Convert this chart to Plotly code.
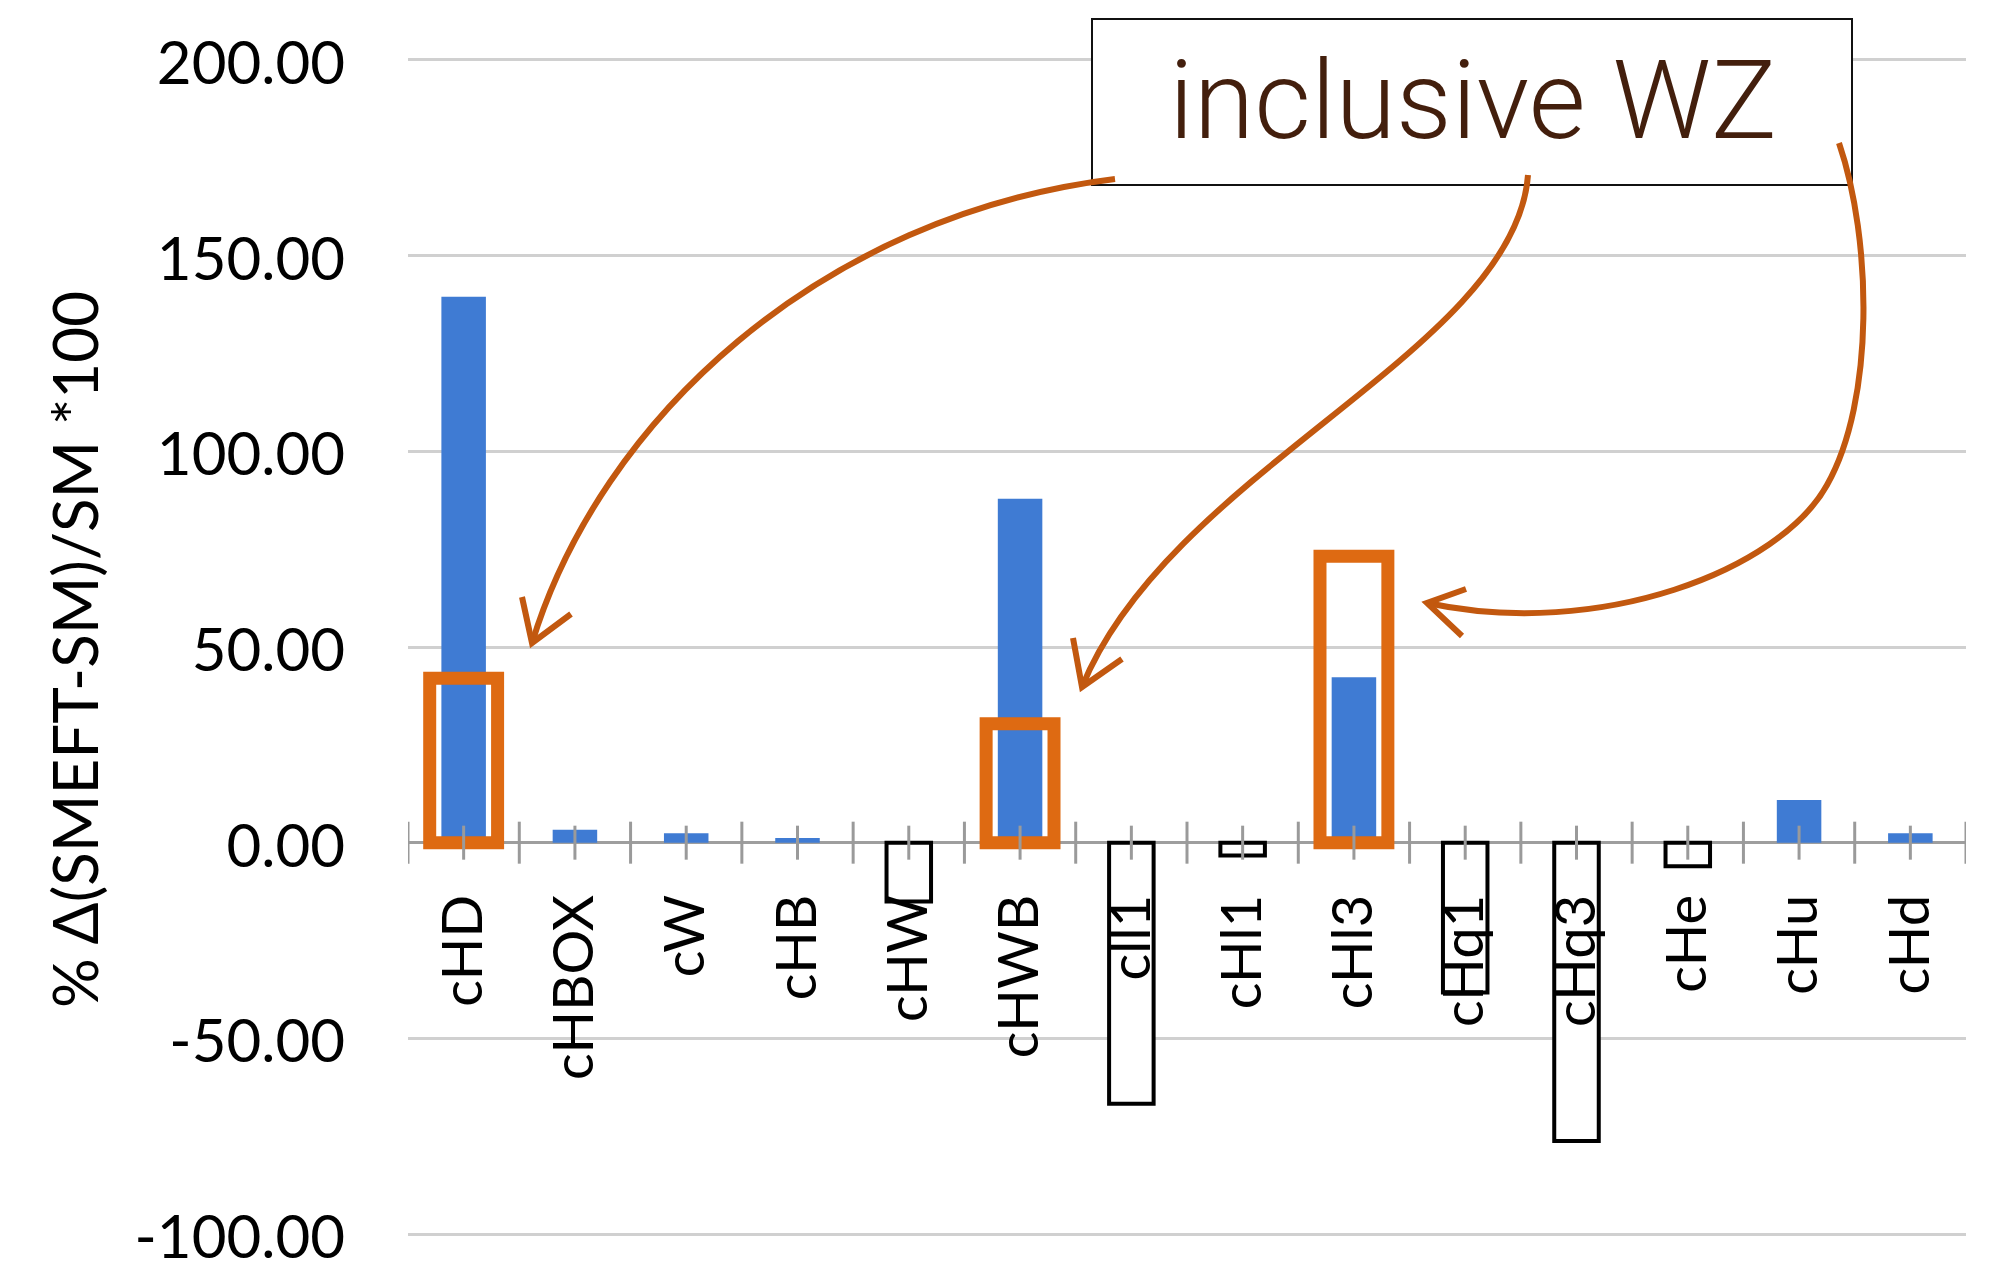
import plotly.graph_objects as go

# Relative change of the cross-section per SMEFT operator, in percent
categories = ["cHD", "cHBOX", "cW", "cHB", "cHW", "cHWB", "cll1",
              "cHl1", "cHl3", "cHq1", "cHq3", "cHe", "cHu", "cHd"]
delta_pct = [139.5, 3.3, 2.4, 1.2, -15.0, 87.9, -66.7,
             -3.3, 42.3, -38.3, -76.2, -6.0, 10.9, 2.4]

# Operators highlighted for inclusive WZ, with the size of their effect
wz_categories = ["cHD", "cHWB", "cHl3"]
wz_pct = [42.0, 30.4, 73.2]

ytick_vals = [-100, -50, 0, 50, 100, 150, 200]
y_min, y_max = -100.5, 200.5

# Page geometry (pixels)
FIG_W, FIG_H = 2003, 1266
M_L, M_R, M_T, M_B = 408, 37, 58, 30
PLOT_W = FIG_W - M_L - M_R
PLOT_H = FIG_H - M_T - M_B


def px(x):
    return (x - M_L) / PLOT_W


def py(y):
    return (FIG_H - M_B - y) / PLOT_H


BLUE = "#3F7BD3"
ORANGE_BOX = "#DE6A12"
ORANGE_PEN = "#C2580F"
TICK_GREY = "#9A9A9A"

fig = go.Figure()

# Main bars: positive values filled blue, negative values drawn as open boxes
fig.add_trace(go.Bar(
    x=categories,
    y=delta_pct,
    width=0.4,
    marker=dict(
        color=[BLUE if v >= 0 else "#FFFFFF" for v in delta_pct],
        line=dict(
            color=[BLUE if v >= 0 else "#000000" for v in delta_pct],
            width=[0 if v >= 0 else 4 for v in delta_pct],
        ),
    ),
    showlegend=False,
    hoverinfo="x+y",
))

# Orange frames marking the inclusive WZ effect
fig.add_trace(go.Bar(
    x=wz_categories,
    y=wz_pct,
    width=0.61,
    marker=dict(color="rgba(0,0,0,0)", line=dict(color=ORANGE_BOX, width=13)),
    showlegend=False,
    hoverinfo="x+y",
))

shapes = []

# Crossing tick marks on the zero axis: long ones between categories,
# short ones at the category centres
for i in range(len(categories) + 1):
    shapes.append(dict(type="line", xref="x", yref="y", ysizemode="pixel",
                       yanchor=0, x0=i - 0.5, x1=i - 0.5, y0=-21, y1=21,
                       line=dict(color=TICK_GREY, width=3), layer="above"))
for i in range(len(categories)):
    shapes.append(dict(type="line", xref="x", yref="y", ysizemode="pixel",
                       yanchor=0, x0=i, x1=i, y0=-17, y1=17,
                       line=dict(color=TICK_GREY, width=3), layer="above"))

# Label box
shapes.append(dict(type="rect", xref="paper", yref="paper",
                   x0=px(1092), x1=px(1852), y0=py(185), y1=py(19),
                   line=dict(color="#111111", width=2), fillcolor="#FFFFFF",
                   layer="above"))


def curve(points):
    (x0, y0) = points[0]
    d = f"M {px(x0)},{py(y0)}"
    rest = points[1:]
    for k in range(0, len(rest), 3):
        (a, b), (c, e), (f, g) = rest[k:k + 3]
        d += f" C {px(a)},{py(b)} {px(c)},{py(e)} {px(f)},{py(g)}"
    return d


def head(tip, b1, b2):
    return (f"M {px(b1[0])},{py(b1[1])} L {px(tip[0])},{py(tip[1])} "
            f"L {px(b2[0])},{py(b2[1])}")


pen = dict(color=ORANGE_PEN, width=6)

# Arrow towards cHD
shapes.append(dict(type="path", xref="paper", yref="paper", line=pen,
                   path=curve([(1115, 179), (820, 215), (600, 420), (532, 643)])))
shapes.append(dict(type="path", xref="paper", yref="paper", line=pen,
                   path=head((532, 643), (522, 597), (571, 614))))

# Arrow towards cHWB
shapes.append(dict(type="path", xref="paper", yref="paper", line=pen,
                   path=curve([(1528, 175), (1515, 350), (1170, 470), (1082, 687)])))
shapes.append(dict(type="path", xref="paper", yref="paper", line=pen,
                   path=head((1082, 687), (1073, 638), (1122, 659))))

# Arrow towards cHl3
shapes.append(dict(type="path", xref="paper", yref="paper", line=pen,
                   path=curve([(1839, 143), (1872, 240), (1875, 400), (1827, 485),
                               (1780, 570), (1600, 640), (1427, 603)])))
shapes.append(dict(type="path", xref="paper", yref="paper", line=pen,
                   path=head((1427, 603), (1466, 589), (1462, 636))))

annotations = [
    dict(text="inclusive WZ", xref="paper", yref="paper",
         x=px(1473), y=py(101), xanchor="center", yanchor="middle",
         showarrow=False,
         font=dict(family="Roboto", size=110, weight=300, color="#431F0D")),
    dict(text="% Δ(SMEFT-SM)/SM *100", xref="paper", yref="paper",
         x=px(74), y=py(650), xanchor="center", yanchor="middle",
         textangle=-90, showarrow=False,
         font=dict(family="Lato", size=62, color="#000000")),
]

fig.update_layout(
    width=FIG_W, height=FIG_H,
    margin=dict(l=M_L, r=M_R, t=M_T, b=M_B, pad=0, autoexpand=False),
    paper_bgcolor="#FFFFFF", plot_bgcolor="#FFFFFF",
    barmode="overlay",
    shapes=shapes,
    annotations=annotations,
    xaxis=dict(
        type="category", categoryorder="array", categoryarray=categories,
        range=[-0.5, len(categories) - 0.5],
        anchor="free", position=(0 - y_min) / (y_max - y_min),
        automargin=False,
        showgrid=False, showline=False, zeroline=False, ticks="",
        tickangle=-90, ticklabelstandoff=40,
        tickfont=dict(family="Lato", size=56, color="#000000"),
    ),
    yaxis=dict(
        range=[y_min, y_max], automargin=False,
        tickvals=ytick_vals, ticktext=[f"{v:.2f}" for v in ytick_vals],
        showgrid=True, gridcolor="#D0D0D0", gridwidth=3,
        zeroline=True, zerolinecolor="#9E9E9E", zerolinewidth=3,
        showline=False, ticks="", ticklabelstandoff=62, ticklabelshift=3,
        ticklabeloverflow="allow",
        tickfont=dict(family="Lato", size=60, color="#000000"),
    ),
)

fig.write_html("out.html")
